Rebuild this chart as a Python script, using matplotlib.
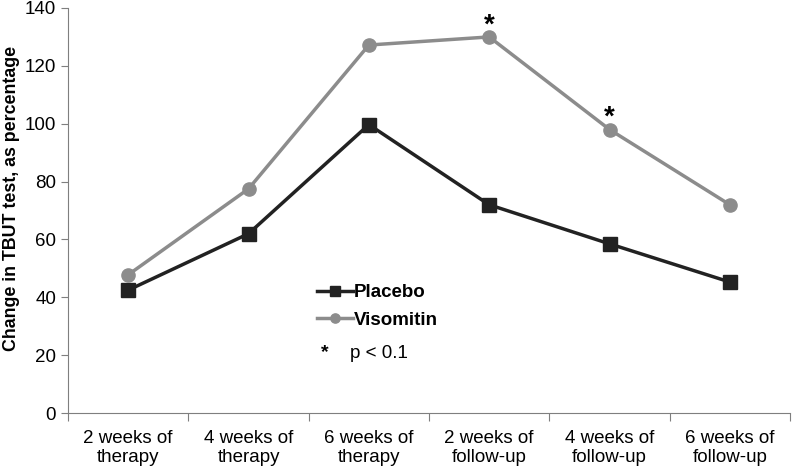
import matplotlib.pyplot as plt
import numpy as np

plt.rcParams['font.family'] = ['Liberation Sans', 'DejaVu Sans']

categories = ['2 weeks of\ntherapy', '4 weeks of\ntherapy', '6 weeks of\ntherapy',
              '2 weeks of\nfollow-up', '4 weeks of\nfollow-up', '6 weeks of\nfollow-up']
placebo = [42.5, 62, 99.7, 72, 58.5, 45.3]
visomitin = [47.8, 77.5, 127.2, 130, 98, 72]
significant = [3, 4]  # индексы точек с p < 0.1

x = np.arange(len(categories))
grey = '#7f7f7f'

fig = plt.figure(figsize=(7.97, 4.70), dpi=100)
ax = fig.add_axes([0.0853, 0.121, 0.906, 0.862])

ax.plot(x, placebo, color='#222222', lw=2.5, marker='s', ms=9.5, label='Placebo')
ax.plot(x, visomitin, color='#8c8c8c', lw=2.5, marker='o', ms=9.5, label='Visomitin')

for i in significant:
    ax.text(x[i], visomitin[i] - 0.5, '*', ha='center', va='bottom', fontsize=20, fontweight='bold')

ax.set_xlim(-0.5, 5.5)
ax.set_ylim(0, 140)
ax.set_yticks(np.arange(0, 141, 20))
ax.set_xticks(np.arange(-0.5, 6, 1))
ax.set_xticklabels([])
ax.set_xticks(x, minor=True)
ax.set_xticklabels(categories, minor=True, fontsize=13.5)
ax.tick_params(axis='x', which='minor', length=0, pad=12)
ax.tick_params(axis='x', which='major', length=6, color=grey)
ax.tick_params(axis='y', length=5, color=grey, labelsize=13.5)

for s in ['top', 'right']:
    ax.spines[s].set_visible(False)
ax.spines['left'].set_color(grey)
ax.spines['bottom'].set_color(grey)

ax.set_ylabel('Change in TBUT test, as percentage', fontsize=12.8, fontweight='bold')
ax.yaxis.set_label_coords(-0.066, 0.53)

ax.legend(loc='center left', bbox_to_anchor=(0.345, 0.263), frameon=False,
          prop={'weight': 'bold', 'size': 13.5}, handlelength=1.9, handletextpad=0.05,
          borderaxespad=0, borderpad=0, labelspacing=0.55, markerscale=0.7)
ax.text(0.356, 0.15, '*', transform=ax.transAxes, fontsize=14, fontweight='bold',
        ha='center', va='center')
ax.text(0.39, 0.148, 'p < 0.1', transform=ax.transAxes, fontsize=13.5, va='center')

fig.savefig('out.png')
